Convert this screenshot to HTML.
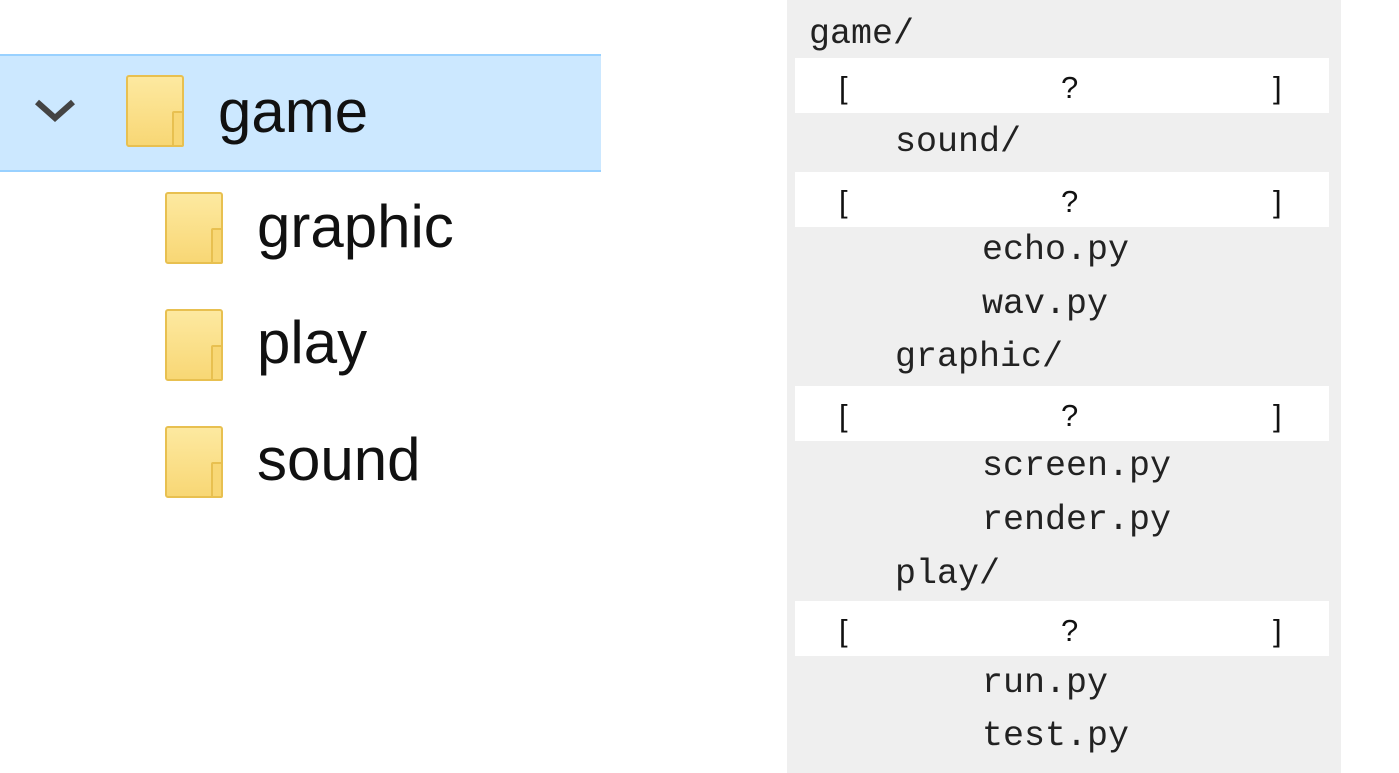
<!DOCTYPE html>
<html><head><style>
body{margin:0;width:1399px;height:773px;background:#fff;position:relative;overflow:hidden;font-family:"Liberation Sans",sans-serif}
.hl{position:absolute;left:0;top:54px;width:601px;height:114px;background:#cce8ff;border-top:2px solid #99d1ff;border-bottom:2px solid #99d1ff}
.f{position:absolute;width:58px;height:72px;background:linear-gradient(#fde9a0,#f8d775);border:2px solid #e8c050;border-radius:3px;box-sizing:border-box}
.f:after{content:"";position:absolute;right:-2px;bottom:-2px;width:12px;height:36px;border:2px solid #e8c050;background:#f8d775;border-radius:2px;box-sizing:border-box}
.t{position:absolute;font-size:60px;color:#111;line-height:1}
.panel{position:absolute;left:787px;top:0;width:554px;height:773px;background:#efefef}
.m{position:absolute;font-family:"Liberation Mono",monospace;font-size:35px;color:#222;line-height:1}
.w{position:absolute;left:795px;width:534px;height:55px;background:#fff}
.w span{position:absolute;top:12px;font-family:"Liberation Sans",sans-serif;font-size:31px;color:#111}
</style></head><body>
<div class="hl"></div>
<svg style="position:absolute;left:33px;top:97px" width="45" height="28"><polyline points="4,5 22,21 40,5" fill="none" stroke="#444" stroke-width="6"/></svg>
<div class="f" style="left:126px;top:75px"></div>
<div class="t" style="left:218px;top:82px">game</div>
<div class="f" style="left:165px;top:192px"></div>
<div class="t" style="left:257px;top:197px">graphic</div>
<div class="f" style="left:165px;top:309px"></div>
<div class="t" style="left:257px;top:313px">play</div>
<div class="f" style="left:165px;top:426px"></div>
<div class="t" style="left:257px;top:430px">sound</div>

<div class="panel"></div>
<div class="m" style="left:809px;top:17px">game/</div>
<div class="w" style="top:58px"><span style="left:44px">[</span><span style="left:266px">?</span><span style="left:478px">]</span></div>
<div class="m" style="left:895px;top:125px">sound/</div>
<div class="w" style="top:172px"><span style="left:44px">[</span><span style="left:266px">?</span><span style="left:478px">]</span></div>
<div class="m" style="left:982px;top:233px">echo.py</div>
<div class="m" style="left:982px;top:287px">wav.py</div>
<div class="m" style="left:895px;top:340px">graphic/</div>
<div class="w" style="top:386px"><span style="left:44px">[</span><span style="left:266px">?</span><span style="left:478px">]</span></div>
<div class="m" style="left:982px;top:449px">screen.py</div>
<div class="m" style="left:982px;top:503px">render.py</div>
<div class="m" style="left:895px;top:557px">play/</div>
<div class="w" style="top:601px"><span style="left:44px">[</span><span style="left:266px">?</span><span style="left:478px">]</span></div>
<div class="m" style="left:982px;top:666px">run.py</div>
<div class="m" style="left:982px;top:719px">test.py</div>
</body></html>
